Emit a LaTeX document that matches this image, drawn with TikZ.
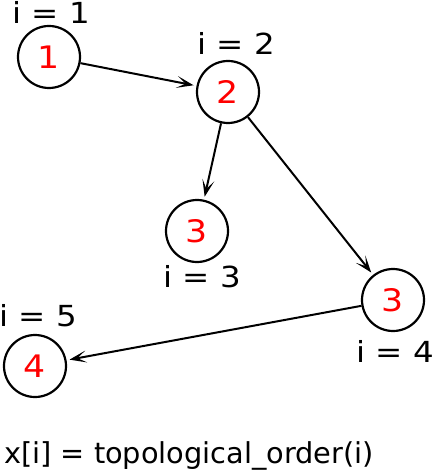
\documentclass[tikz,border=0pt]{standalone}
\usepackage{fontspec}
\setmainfont{DejaVu Sans}
\newfontfamily\widefont[FakeStretch=1.12]{DejaVu Sans}
\usetikzlibrary{arrows.meta}
\begin{document}
\begin{tikzpicture}[x=1pt,y=-1pt,
  vtx/.style={circle,draw=black,line width=2.2pt,minimum size=62pt,inner sep=0pt,text=red,font=\widefont\fontsize{31}{38}\selectfont},
  lbl/.style={anchor=base,inner sep=0pt,font=\widefont\fontsize{29}{36}\selectfont},
  edge/.style={line width=2pt,-{Stealth[length=17pt,width=12pt,inset=9pt,open,line width=1.5pt]},shorten >=3pt}]
\useasboundingbox (0,0) rectangle (436,470);
\node[vtx] (n1) at (49,57) {1};
\node[vtx] (n2) at (228,92) {2};
\node[vtx] (n3a) at (197,231) {3};
\node[vtx] (n3b) at (393,300) {3};
\node[vtx] (n4) at (35,366) {4};
\node[lbl] (l1) at (51,24) {i = 1};
\node[lbl] (l2) at (236,55) {i = 2};
\node[lbl] (l3) at (202,287) {i = 3};
\node[lbl] (l4) at (395,362) {i = 4};
\node[lbl] (l5) at (38,326) {i = 5};
\node[anchor=base,inner sep=0pt,font=\fontsize{28.8}{34}\selectfont] (cap) at (189,463) {x[i] = topological\_order(i)};
\draw[edge] (n1) -- (n2);
\draw[edge] (n2) -- (n3a);
\draw[edge] (n2) -- (n3b);
\draw[edge] (n3b) -- (n4);
\end{tikzpicture}
\end{document}
